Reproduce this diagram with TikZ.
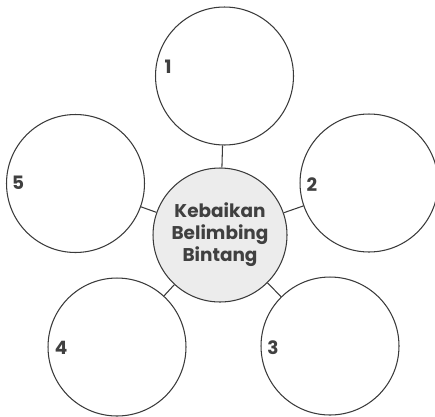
\documentclass[tikz,border=0pt]{standalone}
\usepackage{fontspec}
\setsansfont{Poppins}
\usetikzlibrary{positioning}
\definecolor{linegray}{HTML}{3A3A3A}
\definecolor{hubgray}{HTML}{ECECEC}
\definecolor{textgray}{HTML}{404040}
\tikzset{
    topic node/.style={circle, draw=linegray, fill=hubgray, minimum size=2.68cm, inner sep=0pt, line width=0.6pt, font=\sffamily\bfseries\fontsize{10.5}{12.5}\selectfont, text=textgray, align=center},
    idea node/.style={circle, draw=linegray, minimum size=2.76cm, inner sep=0pt, line width=0.6pt},
    number label/.style={font=\sffamily\bfseries\fontsize{10.5}{12}\selectfont, text=textgray, inner sep=0pt},
    link/.style={draw=linegray, line width=0.6pt},
}
\begin{document}
\begin{tikzpicture}[x=0.02cm, y=-0.02cm]
    \useasboundingbox (0,0) rectangle (435,416);
    \node[topic node] (topic) at (220,235) {Kebaikan\\Belimbing\\Bintang};
    % idea circles: name / centre / number position
    \foreach \name/\x/\y/\lx/\ly in {1/224.5/76/168/67, 2/369/183/312/185, 3/330/346/273/348, 4/117/347/61/348, 5/75.5/183.5/18/183} {
        \node[idea node] (idea\name) at (\x,\y) {};
        \node[number label] (num\name) at (\lx,\ly) {\name};
        \draw[link] (topic) -- (idea\name);
    }
\end{tikzpicture}
\end{document}
